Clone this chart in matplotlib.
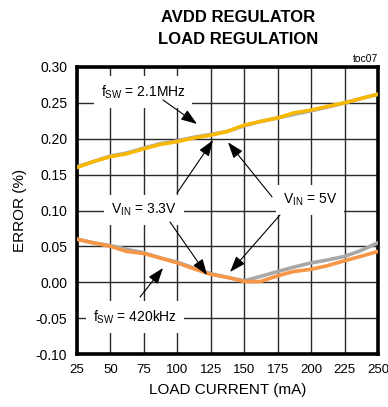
import matplotlib.pyplot as plt
import numpy as np

plt.rcParams['font.family'] = ['Liberation Sans', 'DejaVu Sans']

# load current (mA)
current = [25, 37, 50, 62, 75, 87, 100, 112, 125, 137, 150, 162, 175, 187, 200, 212, 225, 237, 250]

# error (%) at fSW = 2.1MHz
hi_5v = [0.161, 0.168, 0.176, 0.180, 0.187, 0.193, 0.197, 0.202, 0.206, 0.210, 0.218, 0.224, 0.229, 0.234, 0.239, 0.244, 0.250, 0.256, 0.262]
hi_33v = [0.160, 0.168, 0.175, 0.179, 0.186, 0.192, 0.196, 0.201, 0.205, 0.210, 0.219, 0.224, 0.229, 0.236, 0.240, 0.245, 0.250, 0.256, 0.262]

# error (%) at fSW = 420kHz
lo_5v = [0.060, 0.055, 0.051, 0.046, 0.041, 0.034, 0.028, 0.020, 0.012, 0.007, 0.002, 0.008, 0.015, 0.021, 0.027, 0.031, 0.036, 0.044, 0.055]
lo_33v = [0.060, 0.055, 0.050, 0.043, 0.040, 0.034, 0.027, 0.019, 0.011, 0.007, 0.001, 0.001, 0.009, 0.015, 0.018, 0.023, 0.030, 0.036, 0.043]

fig = plt.figure(figsize=(3.88, 4.07), dpi=100)
ax = fig.add_axes([77 / 388, 53 / 407, 301 / 388, 287 / 407])

ax.plot(current, hi_5v, color='#a8a8a8', lw=2.6, zorder=3)
ax.plot(current, hi_33v, color='#f8b800', lw=2.6, zorder=4)
ax.plot(current, lo_5v, color='#a8a8a8', lw=2.6, zorder=3)
ax.plot(current, lo_33v, color='#f79646', lw=2.6, zorder=4)

ax.set_xlim(25, 250)
ax.set_ylim(-0.10, 0.30)
ax.set_xticks(np.arange(25, 251, 25))
ax.set_yticks(np.arange(-0.10, 0.301, 0.05))
ax.set_yticklabels(['-0.10', '-0.05', '0.00', '0.05', '0.10', '0.15', '0.20', '0.25', '0.30'])
ax.tick_params(length=0, labelsize=10, pad=7)
ax.tick_params(axis='x', labelsize=9.5)
ax.grid(True, color='#2a2a2a', lw=1.0)
for s in ax.spines.values():
    s.set_linewidth(2.6)
    s.set_color('black')

ax.set_xlabel('LOAD CURRENT (mA)', fontsize=11, labelpad=5)
ax.set_ylabel('ERROR (%)', fontsize=11, labelpad=6)

fig.text(238 / 388, 1 - 17 / 407, 'AVDD REGULATOR', ha='center', va='center',
         fontsize=12, fontweight='bold')
fig.text(238 / 388, 1 - 40 / 407, 'LOAD REGULATION', ha='center', va='center',
         fontsize=12, fontweight='bold')
ax.text(1.0, 1.012, 'toc07', transform=ax.transAxes, ha='right', va='bottom', fontsize=7.5)

box = dict(facecolor='white', edgecolor='none', pad=5)
arrow = dict(arrowstyle='-|>,head_length=0.7,head_width=0.25', color='black', lw=0.8,
             mutation_scale=14, shrinkA=0, shrinkB=0)

ax.text(74.3, 0.265, r'f$_{\mathregular{SW}}$ = 2.1MHz', ha='center', va='center',
        fontsize=10, bbox=box, zorder=6)
ax.annotate('', xy=(114.7, 0.2206), xytext=(89.3, 0.254), arrowprops=arrow, zorder=6)

ax.text(75.1, 0.1007, r'V$_{\mathregular{IN}}$ = 3.3V', ha='center', va='center',
        fontsize=10, bbox=box, zorder=6)
ax.annotate('', xy=(126.7, 0.198), xytext=(99.8, 0.1244), arrowprops=arrow, zorder=6)
ax.annotate('', xy=(122.2, 0.010), xytext=(94.5, 0.084), arrowprops=arrow, zorder=6)

ax.text(199.2, 0.1146, r'V$_{\mathregular{IN}}$ = 5V', ha='center', va='center',
        fontsize=10, bbox=box, zorder=6)
ax.annotate('', xy=(137.9, 0.195), xytext=(170.8, 0.119), arrowprops=arrow, zorder=6)
ax.annotate('', xy=(139.4, 0.0143), xytext=(176.7, 0.0937), arrowprops=arrow, zorder=6)

ax.text(68.4, -0.0484, r'f$_{\mathregular{SW}}$ = 420kHz', ha='center', va='center',
        fontsize=10, bbox=box, zorder=6)
ax.annotate('', xy=(89.3, 0.0199), xytext=(72.1, -0.0206), arrowprops=arrow, zorder=6)

fig.savefig('out.png', dpi=100)
